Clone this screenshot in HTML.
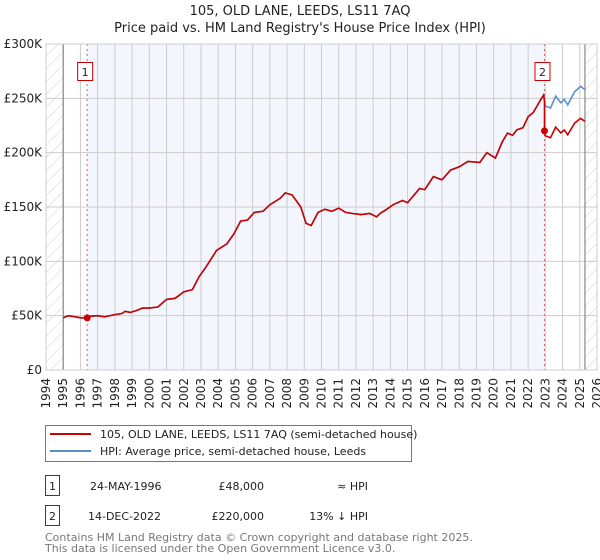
<!DOCTYPE html>
<html><head><meta charset="utf-8">
<style>
body{margin:0;background:#fff;font-family:"Liberation Sans","DejaVu Sans",sans-serif;}
#wrap{position:relative;width:600px;height:560px;overflow:hidden;}
svg text{font-family:"DejaVu Sans","Liberation Sans",sans-serif;}
</style></head>
<body>
<div id="wrap">
<svg id="chart" width="600" height="560" xmlns="http://www.w3.org/2000/svg">
<defs>
<pattern id="hatch" width="9" height="9" patternUnits="userSpaceOnUse" patternTransform="rotate(45)">
<line x1="0" y1="0" x2="0" y2="9" stroke="#d0d0d0" stroke-width="1"/>
</pattern>
</defs>
<text x="300" y="15" text-anchor="middle" font-size="13" fill="#222">105, OLD LANE, LEEDS, LS11 7AQ</text>
<text x="300" y="32" text-anchor="middle" font-size="13" fill="#222">Price paid vs. HM Land Registry's House Price Index (HPI)</text>
<g id="plot"></g>
<g id="legend">
<rect x="45.5" y="425.5" width="366" height="36" fill="#fff" stroke="#777"/>
<line x1="50" y1="434" x2="91" y2="434" stroke="#cc0000" stroke-width="2"/>
<text x="100" y="438" font-size="11" fill="#222">105, OLD LANE, LEEDS, LS11 7AQ (semi-detached house)</text>
<line x1="50" y1="451" x2="91" y2="451" stroke="#5b8fd0" stroke-width="2"/>
<text x="100" y="455" font-size="11" fill="#222">HPI: Average price, semi-detached house, Leeds</text>
</g>
<g font-size="11" fill="#222">
<rect x="45.5" y="475.5" width="14" height="20" fill="#fff" stroke="#cc0000"/>
<text x="52.5" y="490" text-anchor="middle" font-size="11">1</text>
<text x="90" y="490" font-size="11">24-MAY-1996</text>
<text x="264" y="490" text-anchor="end" font-size="11">£48,000</text>
<text x="368" y="490" text-anchor="end" font-size="11">≈ HPI</text>
<rect x="45.5" y="505.5" width="14" height="20" fill="#fff" stroke="#cc0000"/>
<text x="52.5" y="520" text-anchor="middle" font-size="11">2</text>
<text x="88" y="520" font-size="11">14-DEC-2022</text>
<text x="264" y="520" text-anchor="end" font-size="11">£220,000</text>
<text x="368" y="520" text-anchor="end" font-size="11">13% ↓ HPI</text>
</g>
<text x="45" y="541" font-size="11" fill="#777">Contains HM Land Registry data © Crown copyright and database right 2025.</text>
<text x="45" y="552" font-size="11" fill="#777">This data is licensed under the Open Government Licence v3.0.</text>
</svg>
</div>
<script>
const hpiYears=[1995,1995.3,1995.7,1996.0,1996.4,1996.6,1997.0,1997.4,1998.0,1998.4,1998.6,1998.9,1999.3,1999.6,2000.0,2000.5,2001.0,2001.5,2002.0,2002.5,2002.9,2003.3,2003.9,2004.5,2004.9,2005.3,2005.7,2006.1,2006.6,2007.0,2007.3,2007.6,2007.9,2008.3,2008.8,2009.1,2009.4,2009.8,2010.2,2010.6,2011.0,2011.4,2011.8,2012.3,2012.8,2013.2,2013.4,2013.8,2014.15,2014.7,2015.0,2015.7,2016.0,2016.5,2017.0,2017.5,2018.0,2018.5,2019.2,2019.6,2020.1,2020.5,2020.8,2021.1,2021.35,2021.7,2022.0,2022.3,2022.7,2022.9,2023.0,2023.3,2023.6,2023.9,2024.1,2024.3,2024.7,2024.9,2025.05,2025.3];
const hpiValues=[48000,50000,49000,48000,48000,49500,50000,49000,51000,52000,54000,53000,55000,57000,57000,58000,65000,66000,72000,74000,86000,95000,110000,116000,125000,137000,138000,145000,146000,152000,155000,158000,163000,161000,150000,135000,133000,145000,148000,146000,149000,145000,144000,143000,144000,141000,144000,148000,152000,156000,154000,167000,166000,178000,175000,184000,187000,192000,191000,200000,195000,210000,218000,216000,221000,223000,233000,237000,248000,253000,243000,241000,252000,246000,249000,244000,256000,259000,261000,258000];
const saleYears=[1996.39,2022.95];
const salePrices=[48000,220000];
const saleLabels=["1","2"];
const yTicks=[0,50000,100000,150000,200000,250000,300000];
const yTickLabels=["£0","£50K","£100K","£150K","£200K","£250K","£300K"];
const xTicks=[1994,1995,1996,1997,1998,1999,2000,2001,2002,2003,2004,2005,2006,2007,2008,2009,2010,2011,2012,2013,2014,2015,2016,2017,2018,2019,2020,2021,2022,2023,2024,2025,2026];

const NS="http://www.w3.org/2000/svg";
const X0=46,X1=597,Y0=370,Y1=44;
const xs=y=>X0+(y-1994)/(2026-1994)*(X1-X0);
const ys=v=>Y0-v/300000*(Y0-Y1);
const plot=document.getElementById('plot');
function mk(tag,attrs,parent){const e=document.createElementNS(NS,tag);for(const k in attrs)e.setAttribute(k,attrs[k]);(parent||plot).appendChild(e);return e;}
function hpiAt(y){for(let i=0;i<hpiYears.length-1;i++){if(y>=hpiYears[i]&&y<=hpiYears[i+1]){const t=(y-hpiYears[i])/(hpiYears[i+1]-hpiYears[i]);return hpiValues[i]+t*(hpiValues[i+1]-hpiValues[i]);}}return hpiValues[hpiValues.length-1];}
const lastY=hpiYears[hpiYears.length-1];
let r=mk('rect',{x:X0,y:Y1,width:xs(1995)-X0,height:Y0-Y1,fill:'url(#hatch)'});


r=mk('rect',{x:xs(lastY),y:Y1,width:X1-xs(lastY),height:Y0-Y1,fill:'url(#hatch)'});


r=mk('rect',{x:xs(saleYears[0]),y:Y1,width:xs(saleYears[1])-xs(saleYears[0]),height:Y0-Y1,fill:'#f3f6fd'});


xTicks.forEach(t=>{const l=mk('line',{x1:xs(t),x2:xs(t),y1:Y1,y2:Y0,stroke:'#ccc','stroke-width':1});


const tx=mk('text',{x:0,y:0,'font-size':12,fill:'#222','text-anchor':'end',transform:`translate(${xs(t)+4},${Y0+8}) rotate(-90)`});tx.textContent=t;

});
yTicks.forEach((t,i)=>{const l=mk('line',{x1:X0,x2:X1,y1:ys(t),y2:ys(t),stroke:'#ccc','stroke-width':1});


const tx=mk('text',{x:X0-4,y:ys(t)+4,'font-size':12,fill:'#222','text-anchor':'end'});tx.textContent=yTickLabels[i];

});
let b=mk('line',{x1:xs(1995),x2:xs(1995),y1:Y1,y2:Y0,stroke:'#888','stroke-width':1.2});


b=mk('line',{x1:xs(lastY),x2:xs(lastY),y1:Y1,y2:Y0,stroke:'#888','stroke-width':1.2});


saleYears.forEach((y,i)=>{const l=mk('line',{x1:xs(y),x2:xs(y),y1:Y1,y2:Y0,stroke:'#e06060','stroke-width':1,'stroke-dasharray':'2,3'});


const g=mk('g',{});


mk('rect',{x:xs(y)-9.5,y:62.5,width:15,height:18,fill:'#fff',stroke:'#cc0000'},g);
const t=mk('text',{x:xs(y)-2,y:76,'font-size':11,fill:'#222','text-anchor':'middle'},g);t.textContent=saleLabels[i];});
let d='';hpiYears.forEach((y,i)=>{d+=(i?'L':'M')+xs(y).toFixed(1)+','+ys(hpiValues[i]).toFixed(1);});
const hl=mk('path',{d:d,fill:'none',stroke:'#5b8fd0','stroke-width':1.6});


let pd='';
const r0=salePrices[0]/hpiAt(saleYears[0]), r1=salePrices[1]/hpiAt(saleYears[1]);
let first=true;
hpiYears.forEach((y,i)=>{
 if(y<saleYears[1]){pd+=(first?'M':'L')+xs(y).toFixed(1)+','+ys(hpiValues[i]*r0).toFixed(1);first=false;}
});
pd+='L'+xs(saleYears[1]).toFixed(1)+','+ys(hpiAt(saleYears[1])*r0).toFixed(1);
pd+='L'+xs(saleYears[1]).toFixed(1)+','+ys(salePrices[1]).toFixed(1);
hpiYears.forEach((y,i)=>{if(y>saleYears[1])pd+='L'+xs(y).toFixed(1)+','+ys(hpiValues[i]*r1).toFixed(1);});
const pl=mk('path',{d:pd,fill:'none',stroke:'#cc0000','stroke-width':1.6});


saleYears.forEach((y,i)=>{const c=mk('circle',{cx:xs(y),cy:ys(salePrices[i]),r:3.5,fill:'#cc0000'});

});
const bd=mk('rect',{x:X0,y:Y1,width:X1-X0,height:Y0-Y1,fill:'none',stroke:'#ccc'});


</script>
</body></html>
